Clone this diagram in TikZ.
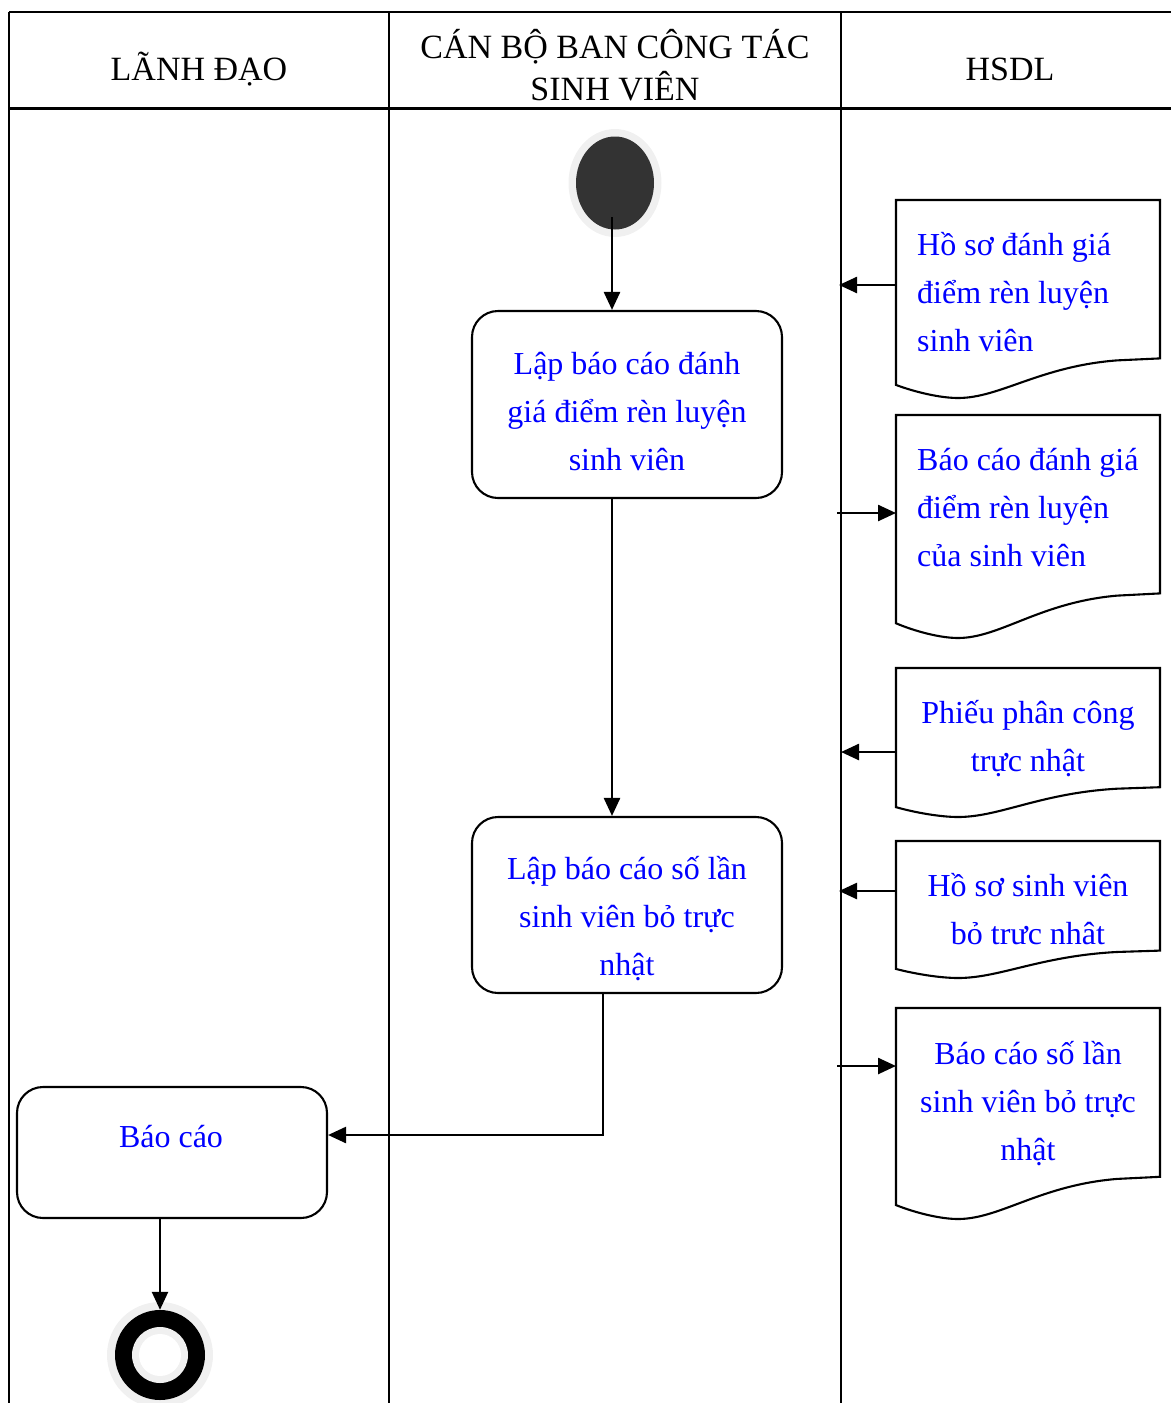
\documentclass[tikz,border=0pt]{standalone}
\usepackage{fontspec}
\setmainfont{Liberation Serif}
\usetikzlibrary{arrows.meta,shapes.geometric}
\definecolor{txtblue}{RGB}{0,0,255}
\definecolor{halo}{RGB}{240,240,240}
\definecolor{startfill}{RGB}{51,51,51}

% document symbol: #1 = top edge, #2 = height, #3 = node name
\newcommand\docoutline[3]{%
  \draw[docline] (896,#1) -- (1160,#1) -- (1160,{#1+0.80*#2})
    -- ({896+0.837*264},{#1+0.81*#2})
    .. controls ({896+0.545*264},{#1+0.84*#2}) and ({896+0.394*264},{#1+#2}) .. ({896+0.235*264},{#1+#2})
    .. controls ({896+0.167*264},{#1+#2}) and ({896+0.072*264},{#1+0.97*#2}) .. (896,{#1+0.934*#2})
    -- cycle;
  \node[inner sep=0pt, minimum width=264pt, minimum height=#2pt, anchor=north west] (#3) at (896,#1) {};
}

\begin{document}
\begin{tikzpicture}[x=1pt,y=-1pt,
  lane/.style={line width=2.3pt},
  actbox/.style={draw, line width=2.1pt, rounded corners=26pt, inner sep=0pt, minimum width=310pt},
  docline/.style={line width=2.1pt},
  arr/.style={line width=2.5pt, -{Triangle[length=18pt,width=16pt]}},
  body/.style={text=txtblue, font=\fontsize{32}{48}\selectfont, align=center, inner sep=0pt},
  head/.style={font=\fontsize{34}{40}\selectfont, align=center, inner sep=0pt}]
\useasboundingbox (0,0) rectangle (1171,1403);
\clip (0,0) rectangle (1171,1403);

% swimlane frame
\draw[lane, line width=2.8pt] (9,12) -- (1171,12);
\draw[lane, line width=3pt] (9,108) -- (1171,108);
\draw[lane] (9,12) -- (9,1403);
\draw[lane] (389,12) -- (389,1403);
\draw[lane] (841,12) -- (841,1403);

% lane titles
\node[head] (t1) at (199,72) {\strut LÃNH ĐẠO};
\node[head] (t2) at (615,71) {\strut CÁN BỘ BAN CÔNG TÁC\\SINH VIÊN\strut};
\node[head] (t3) at (1010,72) {\strut HSDL};

% initial state
\node[ellipse, fill=halo, inner sep=0pt, minimum width=93pt, minimum height=108pt] (starthalo) at (615,183) {};
\node[ellipse, fill=startfill, inner sep=0pt, minimum width=78pt, minimum height=93pt] (start) at (615,183) {};

% activities
\node[actbox, minimum height=187pt] (b1) at (627,404.5) {};
\node[body] (b1t) at (627,413) {\strut Lập báo cáo đánh\\giá điểm rèn luyện\\sinh viên\strut};
\node[actbox, minimum height=176pt] (b2) at (627,905) {};
\node[body] (b2t) at (627,918) {\strut Lập báo cáo số lần\\sinh viên bỏ trực\\nhật\strut};
\node[actbox, minimum height=131pt] (b3) at (172,1152.5) {};
\node[body] (b3t) at (171,1138) {\strut Báo cáo};

% final state
\node[circle, fill=halo, inner sep=0pt, minimum size=106pt] (endhalo) at (160,1355) {};
\node[circle, fill=black, inner sep=0pt, minimum size=90pt] (endn) at (160,1355) {};
\node[circle, fill=halo, inner sep=0pt, minimum size=56pt] (endin) at (160,1355) {};
\node[circle, fill=white, inner sep=0pt, minimum size=42pt] (endcore) at (160,1355) {};

% data stores
\docoutline{200}{198}{d1}
\docoutline{415}{223}{d2}
\docoutline{668}{149}{d3}
\docoutline{841}{137}{d4}
\docoutline{1008}{211}{d5}
\node[body, align=left, anchor=west] (d1t) at (917,294) {\strut Hồ sơ đánh giá\\điểm rèn luyện\\sinh viên\strut};
\node[body, align=left, anchor=west] (d2t) at (917,509) {\strut Báo cáo đánh giá\\điểm rèn luyện\\của sinh viên\strut};
\node[body] (d3t) at (1028,738) {\strut Phiếu phân công\\trực nhật\strut};
\node[body] (d4t) at (1028,910.5) {\strut Hồ sơ sinh viên\\bỏ trưc nhât\strut};
\node[body] (d5t) at (1028,1103) {\strut Báo cáo số lần\\sinh viên bỏ trực\\nhật\strut};

% control flow
\coordinate (ax) at (612,0);
\draw[arr] ([xshift=-3pt,yshift=-34pt]start.center) -- (b1.north -| ax);
\draw[arr] (b1.south -| ax) -- (b2.north -| ax);
\draw[arr] ([xshift=-24pt]b2.south) |- ([yshift=17.5pt]b3.east);
\draw[arr] (b3.south -| endn) -- (endn.north);

% data links with the lane border
\coordinate (h1) at (839,285);
\coordinate (h2) at (837,513);
\coordinate (h3) at (841,752);
\coordinate (h4) at (839,891);
\coordinate (h5) at (837,1066);
\draw[arr] (d1.west |- h1) -- (h1);
\draw[arr] (h2) -- (d2.west |- h2);
\draw[arr] (d3.west |- h3) -- (h3);
\draw[arr] (d4.west |- h4) -- (h4);
\draw[arr] (h5) -- (d5.west |- h5);
\end{tikzpicture}
\end{document}
